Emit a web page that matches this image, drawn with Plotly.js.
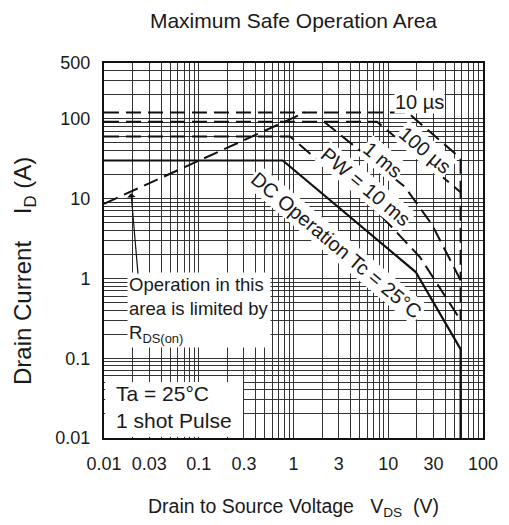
<!DOCTYPE html>
<html>
<head>
<meta charset="utf-8">
<script src="https://cdn.plot.ly/plotly-3.0.1.min.js"></script>
<style>html,body{margin:0;padding:0;background:#fff;}#chart{width:509px;height:525px;}</style>
</head>
<body>
<div id="chart"></div>
<script>
// ---- data (V_DS in volts, I_D in amperes) ----
const rdsV = [0.01, 1.32];
const rdsI = [8.6, 120];

const us10V = [0.01, 16, 58, 58];
const us10I = [120, 120, 32, 12];

const us100V = [0.01, 7.6, 58, 58];
const us100I = [92, 92, 12, 0.95];

const ms1V = [2.1, 15, 29, 58, 58];
const ms1I = [92, 14, 4.7, 0.95, 0.3];

const ms10V = [0.01, 0.92, 7.2, 21.6, 58];
const ms10I = [60, 60, 7.4, 1.85, 0.3];

const dcV = [0.01, 0.77, 19.5, 58, 58];
const dcI = [30, 30, 1.2, 0.13, 0.01];

const xTickVals = [0.01, 0.03, 0.1, 0.3, 1, 3, 10, 30, 100];
const xTickText = ['0.01', '0.03', '0.1', '0.3', '1', '3', '10', '30', '100'];
const yTickVals = [0.01, 0.1, 1, 10, 100, 500];
const yTickText = ['0.01', '0.1', '1', '10', '100', '500'];

// ---- grid values (1..9 per decade) ----
function logGrid(lo, hi) {
  const out = [];
  for (let e = -3; e <= 3; e++) {
    for (let d = 1; d <= 9; d++) {
      const v = d * Math.pow(10, e);
      if (v >= lo * 0.999 && v <= hi * 1.001) out.push(v);
    }
  }
  return out;
}
const xGrid = logGrid(0.01, 100);
const yGrid = logGrid(0.01, 500);

const L = Math.log10;
const FONT = 'Liberation Sans, Arial, sans-serif';
const dash = '15px,7px';
const INK = '#1a1a1a';

const traces = [
  {x: rdsV, y: rdsI, name: 'RDS(on) limit', line: {color: '#111', width: 2, dash: dash}},
  {x: us10V, y: us10I, name: '10 µs', line: {color: '#111', width: 2, dash: dash}},
  {x: us100V, y: us100I, name: '100 µs', line: {color: '#111', width: 2, dash: dash}},
  {x: ms1V, y: ms1I, name: '1 ms', line: {color: '#111', width: 2, dash: dash}},
  {x: ms10V, y: ms10I, name: 'PW = 10 ms', line: {color: '#111', width: 2, dash: dash}},
  {x: dcV, y: dcI, name: 'DC', line: {color: '#111', width: 2.2}}
].map(t => Object.assign({type: 'scatter', mode: 'lines', hoverinfo: 'skip'}, t));

const lab = (text, v, i, angle, size, extra) => Object.assign({
  text: text, x: L(v), y: L(i), xref: 'x', yref: 'y', showarrow: false,
  textangle: angle, bgcolor: '#fff', borderpad: 1,
  font: {family: FONT, size: size, color: INK}
}, extra || {});

const layout = {
  width: 509, height: 525,
  margin: {l: 104, r: 26, t: 63, b: 87},
  paper_bgcolor: '#fff', plot_bgcolor: '#fff',
  showlegend: false,
  font: {family: FONT, size: 18, color: INK},
  title: {
    text: 'Maximum Safe Operation Area',
    x: 0.5, xref: 'paper', y: 1 - 21 / 525, yref: 'container', yanchor: 'middle',
    font: {family: FONT, size: 21, color: INK}
  },
  xaxis: {
    type: 'log', range: [-2, 2],
    tickvals: xTickVals, ticktext: xTickText,
    ticks: '', ticklabelstandoff: 8,
    showgrid: true, gridcolor: '#333', gridwidth: 1,
    minor: {tickvals: xGrid, showgrid: true, gridcolor: '#333', gridwidth: 1, ticks: ''},
    showline: true, mirror: true, linecolor: '#111', linewidth: 2,
    zeroline: false,
    tickfont: {family: FONT, size: 18, color: INK},
    title: {
      text: 'Drain to Source Voltage\u00a0\u00a0 V<sub>DS</sub>\u00a0 (V)',
      standoff: 27,
      font: {family: FONT, size: 19.5, color: INK}
    }
  },
  yaxis: {
    type: 'log', range: [-2, L(500)],
    tickvals: yTickVals, ticktext: yTickText,
    ticks: '', ticklabelstandoff: 8,
    showgrid: true, gridcolor: '#333', gridwidth: 1,
    minor: {tickvals: yGrid, showgrid: true, gridcolor: '#333', gridwidth: 1, ticks: ''},
    showline: true, mirror: true, linecolor: '#111', linewidth: 2,
    zeroline: false,
    tickfont: {family: FONT, size: 18, color: INK}
  },
  shapes: [
    {type: 'rect', xref: 'paper', yref: 'paper', x0: 1.2 / 379, x1: (243 - 104) / 379,
     y0: 1.2 / 375, y1: (438 - 382) / 375,
     fillcolor: '#fff', line: {width: 0}, layer: 'above'}
  ],
  annotations: [
    {text: 'Drain Current\u00a0\u00a0\u00a0 I<sub>D</sub> (A)', xref: 'paper', yref: 'paper',
     x: -80 / 379, y: 1 - (271 - 63) / 375, textangle: -90, showarrow: false,
     xanchor: 'center', yanchor: 'middle',
     font: {family: FONT, size: 24, color: INK}},
    lab('10 µs', 21.6, 162, 0, 20, {borderpad: 0}),
    lab('100 µs', 24.4, 40.6, 40, 20),
    lab('1 ms', 8.8, 30.4, 40, 20),
    lab('PW = 10 ms', 5.8, 14, 40, 20),
    lab('DC Operation Tc = 25°C', 2.81, 2.62, 40, 20),
    {text: 'Operation in this<br>area is limited by<br>R<sub>DS(on)</sub>',
     x: L(0.0175), y: L(0.40), xref: 'x', yref: 'y', xanchor: 'left', yanchor: 'middle',
     align: 'left', showarrow: false, bgcolor: '#fff', borderpad: 1,
     font: {family: FONT, size: 18.5, color: INK}},
    {text: 'Ta = 25°C<br>1 shot Pulse',
     x: L(0.0128), y: L(0.0245), xref: 'x', yref: 'y', xanchor: 'left', yanchor: 'middle',
     align: 'left', showarrow: false,
     font: {family: FONT, size: 21, color: INK}},
    {text: '', x: L(0.0193), y: L(11.7), xref: 'x', yref: 'y',
     ax: L(0.0229), ay: L(1.1), axref: 'x', ayref: 'y',
     showarrow: true, arrowhead: 1, arrowsize: 1.2, arrowwidth: 1.2, arrowcolor: '#111'}
  ]
};

Plotly.newPlot('chart', traces, layout, {staticPlot: true, displayModeBar: false});
</script>
</body>
</html>
